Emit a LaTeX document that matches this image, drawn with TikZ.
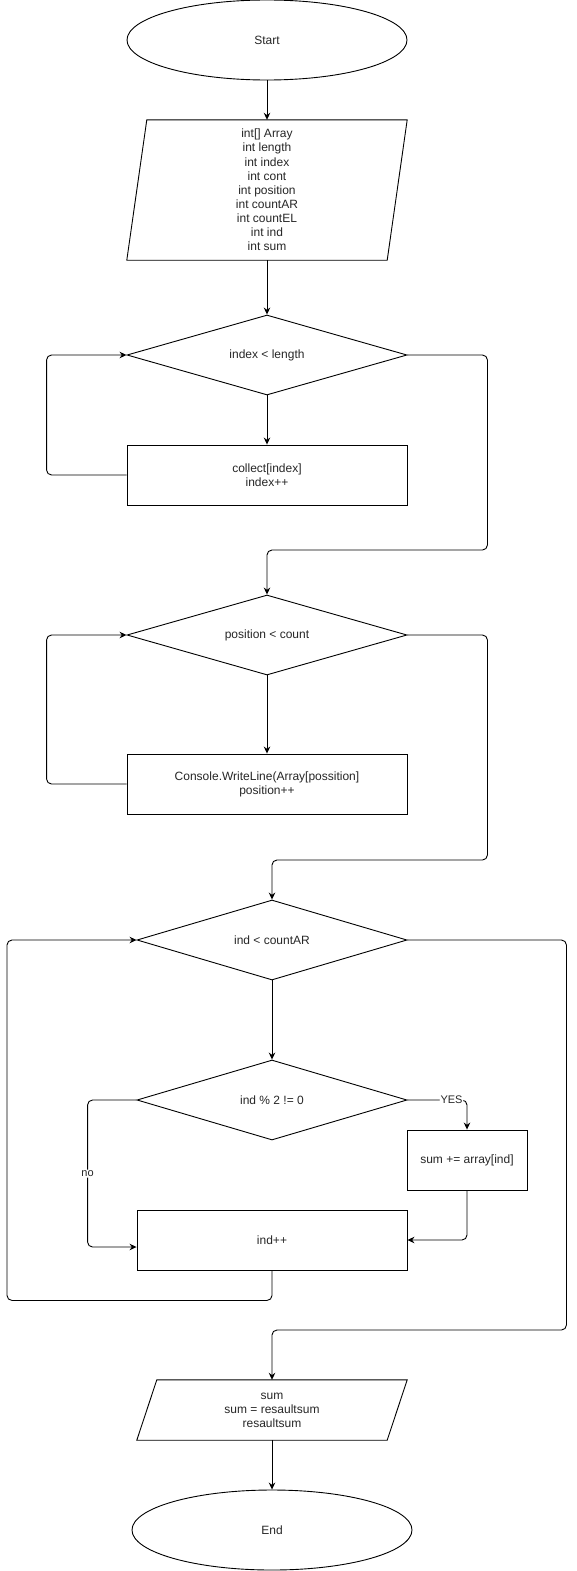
\documentclass[tikz,border=0pt]{standalone}
\usepackage{fontspec}
\setmainfont{Liberation Sans}
\usetikzlibrary{shapes.geometric,arrows.meta}
\begin{document}
\begin{tikzpicture}[x=1pt,y=-1pt,
  every node/.style={font=\fontsize{12}{14.1}\selectfont, text=black!85, align=center},
  term/.style={ellipse, draw, line width=0.9pt, minimum width=280pt, minimum height=80pt, inner sep=0pt},
  dec/.style={diamond, draw, line width=0.9pt, aspect=3.5, minimum height=80pt, inner sep=0pt},
  proc/.style={rectangle, draw, line width=0.9pt, minimum height=60pt, inner sep=0pt},
  iobox/.style={rectangle, inner sep=0pt},
  iolines/.style={line width=0.9pt},
  arr/.style={-{Stealth[length=7pt,width=6.5pt]}, line width=0.9pt, rounded corners=5pt},
  lbl/.style={fill=white, inner sep=1pt, font=\fontsize{11}{13}\selectfont}]
\useasboundingbox (0,0) rectangle (576,1571);

% nodes
\node[term] (start) at (267,40) {Start};
\node[iobox, minimum width=280pt, minimum height=140pt] (in) at (267,190)
  {int[] Array\\int length\\int index\\int cont\\int position\\int countAR\\int countEL\\int ind\\int sum};
\draw[iolines] ([xshift=20pt]in.north west) -- (in.north east) -- ([xshift=-20pt]in.south east) -- (in.south west) -- cycle;

\node[dec, minimum width=280pt] (d1) at (267,355) {index < length};
\node[proc, minimum width=280pt] (r1) at (267,475) {collect[index]\\index++};

\node[dec, minimum width=280pt] (d2) at (267,635) {position < count};
\node[proc, minimum width=280pt] (r2) at (267,784) {Console.WriteLine(Array[possition]\\position++};

\node[dec, minimum width=270pt] (d3) at (272,940) {ind < countAR};
\node[dec, minimum width=270pt] (d4) at (272,1100) {ind \% 2 != 0};
\node[proc, minimum width=120pt] (s) at (467,1160) {sum += array[ind]};
\node[proc, minimum width=270pt] (r3) at (272,1240) {ind++};

\node[iobox, minimum width=270pt, minimum height=60pt] (out) at (272,1410)
  {sum\\sum = resaultsum\\resaultsum};
\draw[iolines] ([xshift=20pt]out.north west) -- (out.north east) -- ([xshift=-20pt]out.south east) -- (out.south west) -- cycle;

\node[term] (end) at (272,1530) {End};

% connectors
\draw[arr] (start.south) -- (in.north);
\draw[arr] (in.south) -- (d1.north);
\draw[arr] (d1.south) -- (r1.north);
\draw[arr] (r1.west) -- ++(-80,0) |- (d1.west);
\draw[arr] (d1.east) -- ++(80,0) -- ++(0,195) -| (d2.north);

\draw[arr] (d2.south) -- (r2.north);
\draw[arr] (r2.west) -- ++(-80,0) |- (d2.west);
\draw[arr] (d2.east) -- ++(80,0) -- ++(0,225) -| (d3.north);

\draw[arr] (d3.south) -- (d4.north);
\draw[arr] (d4.east) -| node[lbl, pos=0.37] {YES} (s.north);
\draw[arr] (s.south) |- (r3.east);
\draw[arr] (d4.west) -- ++(-49,0) |- node[lbl, pos=0.25] {no} ([yshift=-7pt]r3.west);
\draw[arr] (r3.south) -- ++(0,30) -- ++(-265,0) |- (d3.west);
\draw[arr] (d3.east) -- ++(159,0) -- ++(0,390) -| (out.north);

\draw[arr] (out.south) -- (end.north);
\end{tikzpicture}
\end{document}
